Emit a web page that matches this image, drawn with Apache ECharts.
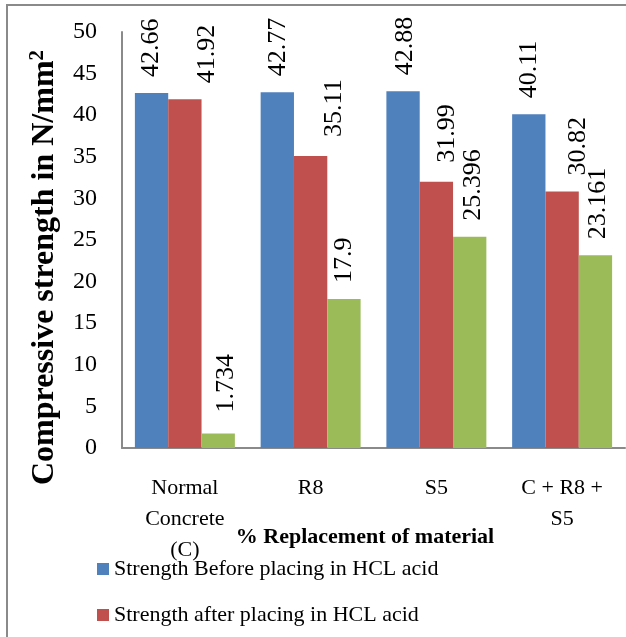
<!DOCTYPE html>
<html>
<head>
<meta charset="utf-8">
<script src="https://cdn.jsdelivr.net/npm/echarts@6/dist/echarts.min.js"></script>
<style>
html,body{margin:0;padding:0;background:#fff;}
#chart{width:626px;height:637px;}
</style>
</head>
<body>
<div id="chart"></div>
<script>
const categories = ['Normal\nConcrete\n(C)', 'R8', 'S5', 'C + R8 +\nS5'];
const seriesNames = ['Strength Before placing in HCL acid', 'Strength after placing in HCL acid', 'Strength (third series)'];
const beforeHCL = [42.66, 42.77, 42.88, 40.11];
const afterHCL = [41.92, 35.11, 31.99, 30.82];
const thirdSeries = [1.734, 17.9, 25.396, 23.161];
const yMin = 0, yMax = 50, yStep = 5;

// label nudges on screen [right, down] (style only)
const blueShift = [[0, 0], [1, 0], [2, 0], [0, 0]];
const redShift = [[22, 0], [24, -3], [11, -3], [16, 0]];
const greenShift = [[8, -5], [0, 0], [3, 0], [3, 0]];

const colors = ['#4F81BD', '#C0504D', '#9BBB59'];
const serif = '"Liberation Serif", "Times New Roman", serif';

// labels are rotated 90deg, so offsets are given in the text's own frame
function withLabels(values, shifts) {
  return values.map((v, i) => ({ value: v, label: { offset: [-shifts[i][1], shifts[i][0]] } }));
}

const labelBase = {
  show: true,
  position: 'top',
  rotate: 90,
  align: 'left',
  verticalAlign: 'middle',
  distance: 16,
  fontFamily: serif,
  fontSize: 26,
  color: '#000'
};

const chart = echarts.init(document.getElementById('chart'), null, { renderer: 'canvas' });
chart.setOption({
  animation: false,
  backgroundColor: '#fff',
  color: colors,
  graphic: [{
    type: 'rect',
    shape: { x: 7, y: 5, width: 700, height: 700 },
    style: { fill: 'none', stroke: '#8a8a8a', lineWidth: 2 },
    silent: true
  }],
  grid: { left: 122, right: 1, top: 32, bottom: 189 },
  legend: {
    orient: 'vertical',
    left: 97,
    top: 558,
    padding: 0,
    itemWidth: 12,
    itemHeight: 12,
    itemGap: 24,
    icon: 'rect',
    data: [seriesNames[0], seriesNames[1]],
    textStyle: { fontFamily: serif, fontSize: 22, color: '#000' }
  },
  xAxis: {
    type: 'category',
    data: categories,
    name: '% Replacement of material',
    nameLocation: 'middle',
    nameGap: 78,
    nameMoveOverlap: false,
    nameTextStyle: { fontFamily: serif, fontSize: 22, fontWeight: 'bold', color: '#000', padding: [0, 17, 0, 0] },
    axisLine: { lineStyle: { color: '#8a8a8a', width: 2 } },
    axisTick: { show: false },
    axisLabel: { interval: 0, fontFamily: serif, fontSize: 22, color: '#000', lineHeight: 31, margin: 25 }
  },
  yAxis: {
    type: 'value',
    min: yMin,
    max: yMax,
    interval: yStep,
    name: 'Compressive strength in N/mm{s|2}',
    nameLocation: 'middle',
    nameGap: 60,
    nameMoveOverlap: false,
    nameTextStyle: {
      fontFamily: serif, fontSize: 32, fontWeight: 'bold', color: '#000',
      padding: [0, 55, 0, 0],
      rich: { s: { fontFamily: serif, fontSize: 21, fontWeight: 'bold', color: '#000', verticalAlign: 'top', padding: [0, 0, 14, 0] } }
    },
    splitLine: { show: false },
    axisLine: { show: true, lineStyle: { color: '#8a8a8a', width: 2 } },
    axisTick: { show: false },
    axisLabel: { fontFamily: serif, fontSize: 24, color: '#000', margin: 25 }
  },
  series: [
    { name: seriesNames[0], type: 'bar', barGap: '0%', barCategoryGap: '20.5%', data: withLabels(beforeHCL, blueShift), label: labelBase },
    { name: seriesNames[1], type: 'bar', barGap: '0%', barCategoryGap: '20.5%', data: withLabels(afterHCL, redShift), label: labelBase },
    { name: seriesNames[2], type: 'bar', barGap: '0%', barCategoryGap: '20.5%', data: withLabels(thirdSeries, greenShift), label: labelBase }
  ]
});
</script>
</body>
</html>
